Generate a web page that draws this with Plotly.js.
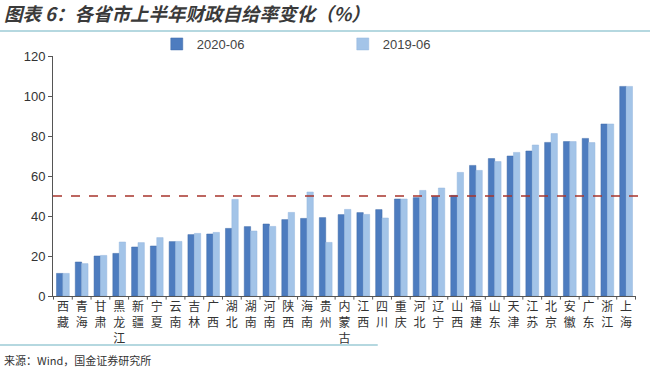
<!DOCTYPE html>
<html>
<head>
<meta charset="utf-8">
<script src="https://cdn.plot.ly/plotly-3.0.1.min.js"></script>
<style>html,body{margin:0;padding:0;background:#fff;}#chart{width:650px;height:369px;}</style>
</head>
<body>
<div id="chart"></div>
<script>
const provinces = ["西藏","青海","甘肃","黑龙江","新疆","宁夏","云南","吉林","广西","湖北","湖南","河南","陕西","海南","贵州","内蒙古","江西","四川","重庆","河北","辽宁","山西","福建","山东","天津","江苏","北京","安徽","广东","浙江","上海"];
const v2020 = [11.3,17,20,21.3,24.5,25,27.2,30.7,31,33.8,34.7,36,38.2,38.8,39.2,40.7,41.7,43.2,48.5,49.2,49.8,50.3,65.3,68.7,70,72.5,76.8,77.2,78.8,86,104.8];
const v2019 = [11.3,16.2,20.3,27,26.7,29.2,27.3,31.3,31.8,48.3,32.5,34.8,41.8,52,26.8,43.3,40.8,39,48.5,52.8,54,61.8,62.8,67.2,71.8,75.5,81.2,77.2,76.7,86,104.8];
const seriesNames = ["2020-06","2019-06"];
const refLine = 50;
const yTicks = [0,20,40,60,80,100,120];

const tickText = provinces.map(p => p.split("").join("<br>"));

const traces = [
  {type:"bar", name:seriesNames[0], x:provinces, y:v2020, marker:{color:"#4d7cbf", line:{color:"#3f6aa8", width:0.5}}},
  {type:"bar", name:seriesNames[1], x:provinces, y:v2019, marker:{color:"#a3c4e8", line:{color:"#94b7de", width:0.5}}}
];

const layout = {
  width:650, height:369,
  margin:{l:53, r:14, t:56, b:73},
  paper_bgcolor:"#fff", plot_bgcolor:"#fff",
  font:{family:"Arial, 'Liberation Sans', sans-serif", color:"#333"},
  title:{text:"<b><i>图表 6：各省市上半年财政自给率变化（%）</i></b>", x:0.006, xanchor:"left", y:0.978, yanchor:"top",
         font:{family:"'Noto Sans CJK SC'", size:18.5, color:"#3a3a3a"}},
  barmode:"group", bargap:0.32, bargroupgap:0,
  showlegend:true,
  legend:{orientation:"h", x:0.178, xanchor:"left", y:1.05, yanchor:"middle", font:{size:13, color:"#444"}, itemwidth:30, traceorder:"normal", entrywidth:141, bgcolor:"rgba(0,0,0,0)"},
  xaxis:{type:"category", tickvals:provinces, ticktext:tickText, tickangle:0,
         tickfont:{family:"'Noto Sans CJK SC'", size:12, color:"#333"},
         showline:true, linecolor:"#555", linewidth:1, ticks:"", showgrid:false, zeroline:false},
  yaxis:{range:[0,120], tickvals:yTicks, ticks:"outside", ticklen:4, tickcolor:"#555",
         showline:true, linecolor:"#555", linewidth:1, showgrid:false, zeroline:false,
         tickfont:{size:13, color:"#333"}},
  shapes:[
    {type:"line", xref:"paper", yref:"y", x0:0, x1:1.01, y0:refLine, y1:refLine, line:{color:"#a8342c", width:1.3, dash:"dash"}},
    {type:"line", xref:"paper", yref:"paper", x0:-0.091, x1:1.024, y0:1.104, y1:1.104, line:{color:"#9ccbd6", width:1.5}},
    {type:"line", xref:"paper", yref:"paper", x0:-0.091, x1:0.557, y0:-0.204, y1:-0.204, line:{color:"#9ccbd6", width:1.5}}
  ],
  annotations:[
    {xref:"paper", yref:"paper", x:-0.088, y:-0.267, xanchor:"left", yanchor:"middle", showarrow:false,
     text:"来源：Wind，国金证券研究所", font:{family:"'Noto Sans CJK SC'", size:11, color:"#333"}}
  ]
};

// category boundary ticks on x axis
for (let i = 0; i <= provinces.length; i++) {
  layout.shapes.push({type:"line", xref:"x", yref:"paper", x0:i-0.5, x1:i-0.5, y0:0, y1:-0.015, line:{color:"#555", width:1}});
}

Plotly.newPlot("chart", traces, layout, {displayModeBar:false, staticPlot:true});
</script>
</body>
</html>
